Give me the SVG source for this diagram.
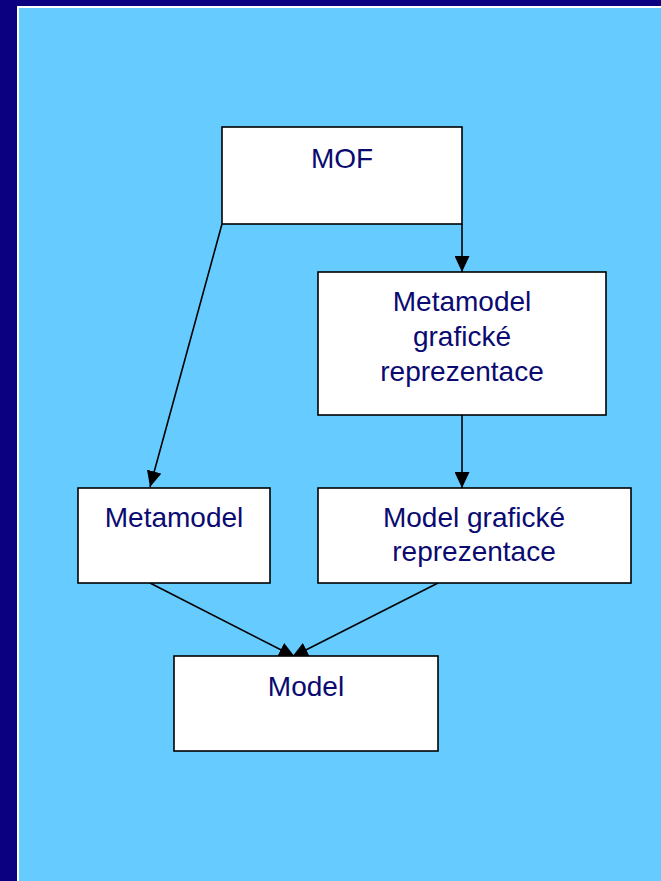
<svg xmlns="http://www.w3.org/2000/svg" width="661" height="881" viewBox="0 0 661 881">
<defs>
<style>
.box{fill:#ffffff;stroke:#000000;stroke-width:1.6}
.lbl{font-family:"Liberation Sans",Arial,sans-serif;font-size:28px;fill:#0a0a70;text-anchor:middle}
.edge{stroke:#000000;stroke-width:1.6;fill:none}
</style>
<marker id="ah" markerUnits="userSpaceOnUse" markerWidth="16" markerHeight="15" refX="16" refY="7.5" orient="auto">
<path d="M0,0 L16,7.5 L0,15 Z" fill="#000000"/>
</marker>
</defs>
<rect x="0" y="0" width="661" height="881" fill="#0a0080"/>
<rect x="17" y="6" width="644" height="875" fill="#ffffff"/>
<rect x="19" y="8" width="642" height="873" fill="#66ccff"/>
<g id="connectors">
<line class="edge" x1="222" y1="224" x2="150" y2="487" marker-end="url(#ah)"/>
<line class="edge" x1="462" y1="224" x2="462" y2="272" marker-end="url(#ah)"/>
<line class="edge" x1="462" y1="415" x2="462" y2="488" marker-end="url(#ah)"/>
<line class="edge" x1="150" y1="583" x2="295" y2="657" marker-end="url(#ah)"/>
<line class="edge" x1="438" y1="583" x2="292" y2="657" marker-end="url(#ah)"/>
</g>
<g id="mof">
<rect class="box" x="222" y="127" width="240" height="97"/>
<text class="lbl" x="342" y="168">MOF</text>
</g>
<g id="metamodel-graficke">
<rect class="box" x="318" y="272" width="288" height="143"/>
<text class="lbl" x="462" y="311">Metamodel</text>
<text class="lbl" x="462" y="346">grafické</text>
<text class="lbl" x="462" y="381">reprezentace</text>
</g>
<g id="metamodel">
<rect class="box" x="78" y="488" width="192" height="95"/>
<text class="lbl" x="174" y="527">Metamodel</text>
</g>
<g id="model-graficke">
<rect class="box" x="318" y="488" width="313" height="95"/>
<text class="lbl" x="474" y="527">Model grafické</text>
<text class="lbl" x="474" y="561">reprezentace</text>
</g>
<g id="model">
<rect class="box" x="174" y="656" width="264" height="95"/>
<text class="lbl" x="306" y="696">Model</text>
</g>
</svg>
